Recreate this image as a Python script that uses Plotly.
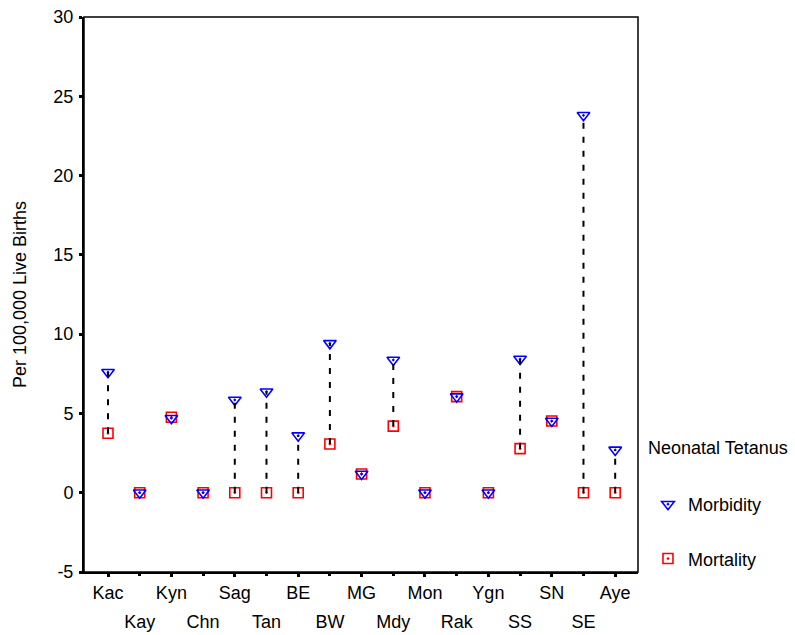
import plotly.graph_objects as go

regions = ["Kac", "Kay", "Kyn", "Chn", "Sag", "Tan", "BE", "BW", "MG", "Mdy",
           "Mon", "Rak", "Ygn", "SS", "SN", "SE", "Aye"]
morbidity = [7.6, 0, 4.7, 0, 5.85, 6.37, 3.6, 9.42, 1.18, 8.37, 0, 6.06, 0, 8.43, 4.52, 23.8, 2.7]
mortality = [3.75, 0, 4.76, 0, 0, 0, 0, 3.07, 1.18, 4.2, 0, 6.06, 0, 2.78, 4.52, 0, 0]
y_ticks = [-5, 0, 5, 10, 15, 20, 25, 30]
y_ticktext = ["-5", "0", "5", "10", "15", "20", "25", "30"]

xs = list(range(len(regions)))

# dashed connectors
lx, ly = [], []
for i, (a, b) in enumerate(zip(mortality, morbidity)):
    if abs(a - b) > 0.3:
        lx += [i, i, None]
        ly += [a, b, None]

FONT = "Liberation Sans, Arial, sans-serif"
FS = 18

fig = go.Figure()
fig.add_trace(go.Scatter(x=lx, y=ly, mode="lines", xaxis="x2",
                         line=dict(color="black", width=2, dash="6px,8px"),
                         showlegend=False, hoverinfo="skip"))
fig.add_trace(go.Scatter(x=xs, y=mortality, mode="markers", name="Mortality",
                         legendrank=2, legendgroup="b",
                         marker=dict(symbol="square-open-dot", size=10, color="red",
                                     line=dict(width=1.6, color="red"))))
fig.add_trace(go.Scatter(x=xs, y=morbidity, mode="markers", name="Morbidity",
                         legendrank=1, legendgroup="a",
                         marker=dict(symbol="triangle-down-open-dot", size=11, color="blue",
                                     line=dict(width=1.6, color="blue"))))

axis_common = dict(ticks="outside", ticklen=3, tickwidth=3, tickcolor="black",
                   showgrid=False, zeroline=False, automargin=False,
                   tickfont=dict(family=FONT, size=FS, color="black"))

fig.update_layout(
    width=795, height=635, autosize=False,
    margin=dict(l=84, r=157, t=17, b=63),
    plot_bgcolor="white", paper_bgcolor="white",
    font=dict(family=FONT, size=FS, color="black"),
    xaxis=dict(range=[-0.757, 16.72], tickvals=xs[0::2], ticktext=regions[0::2],
               showline=True, linewidth=2, linecolor="black", **axis_common),
    xaxis2=dict(overlaying="x", matches="x", side="bottom",
                tickvals=xs[1::2], ticktext=regions[1::2],
                ticklabelstandoff=30, showline=False, **axis_common),
    yaxis=dict(range=[-5, 30], tickvals=y_ticks, ticktext=y_ticktext,
               showline=True, linewidth=2, linecolor="black",
               ticklabelstandoff=2,
               title=dict(text="Per 100,000 Live Births",
                          font=dict(family=FONT, size=FS, color="black"), standoff=22),
               **axis_common),
    legend=dict(x=1.018, xanchor="left", y=0.155, yanchor="top",
                tracegroupgap=28, font=dict(family=FONT, size=FS),
                bgcolor="rgba(0,0,0,0)"),
    annotations=[dict(text="Neonatal Tetanus", xref="paper", yref="paper",
                      x=(646 - 84) / 554, y=(572 - 448) / 555,
                      xanchor="left", yanchor="middle", showarrow=False,
                      font=dict(family=FONT, size=FS, color="black"))],
    shapes=[dict(type="rect", xref="paper", yref="paper", x0=0, x1=1, y0=0, y1=1,
                 line=dict(color="black", width=1.5))],
)

fig.write_html("out.html", config={"displayModeBar": False},
               post_script="document.body.style.margin='0';document.body.style.padding='0';")
